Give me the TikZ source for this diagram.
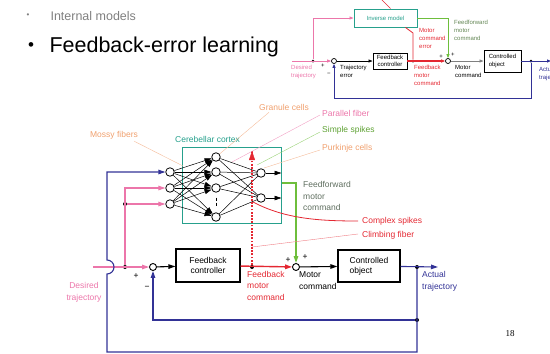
\documentclass[tikz,border=0pt]{standalone}
\usepackage{fontspec}
\setmainfont{Liberation Sans}
\newfontfamily\pagenumfont{Liberation Serif}
\usetikzlibrary{calc,positioning,arrows.meta}

\definecolor{trajpink}{RGB}{236,118,170}
\definecolor{loopblue}{RGB}{50,50,150}
\definecolor{cortexteal}{RGB}{38,160,140}
\definecolor{ffgreen}{RGB}{110,190,60}
\definecolor{errred}{RGB}{228,40,50}
\definecolor{cellorange}{RGB}{240,160,110}
\definecolor{ffgray}{RGB}{95,110,95}

\begin{document}
\begin{tikzpicture}[
        x=1pt, y=-1pt,
        box/.style={rectangle, draw=black, line width=1.2pt, font=\fontsize{8.5}{10}\selectfont, inner sep=1pt},
        smallbox/.style={rectangle, draw=black, line width=0.9pt, font=\fontsize{6}{7.5}\selectfont, inner sep=1pt},
        sum/.style={circle, draw=black, fill=white, line width=0.9pt, minimum size=7pt, inner sep=0pt},
        smallsum/.style={circle, draw=black, fill=white, line width=0.7pt, minimum size=5pt, inner sep=0pt},
        cell/.style={circle, draw=black, fill=white, line width=0.8pt, minimum size=8.5pt, inner sep=0pt},
        dot/.style={circle, fill=black, minimum size=4pt, inner sep=0pt},
        smalldot/.style={circle, fill=black, minimum size=3pt, inner sep=0pt},
        lbl/.style={font=\fontsize{8.5}{11.5}\selectfont, align=left, inner sep=0pt},
        tiny/.style={font=\fontsize{6}{8}\selectfont, align=left, inner sep=0pt},
        tip/.style={-{Triangle[length=7pt,width=4.5pt]}},
        smalltip/.style={-{Triangle[length=4pt,width=3pt]}},
        pointer/.style={line width=0.4pt}
    ]
    \useasboundingbox (0,0) rectangle (550,354);

    % slide text
    \node[text=gray, font=\fontsize{8}{9}\selectfont] (subbullet) at (28,16) {•};
    \node[anchor=west, text=gray, font=\fontsize{12.5}{14}\selectfont] (subtitle) at (47,16) {Internal models};
    \node[font=\fontsize{17}{18}\selectfont] (titlebullet) at (31,47) {•};
    \node[anchor=west, font=\fontsize{21.5}{24}\selectfont] (title) at (46,47) {Feedback-error learning};

    % small scheme, top right
    \node[draw=cortexteal, line width=0.9pt, minimum width=63pt, minimum height=18pt, tiny, text=cortexteal] (inv) at (385.5,18) {Inverse model};
    \node[smallbox, minimum width=34pt, minimum height=16pt, align=center] (ifb) at (390,61) {Feedback\\controller};
    \node[smallbox, minimum width=37pt, minimum height=22pt, align=left] (ico) at (502.5,61) {Controlled\\object};
    \node[smallsum] (isum1) at (334,61) {};
    \node[smallsum] (isum2) at (448,61) {};
    \coordinate (idesin) at (292,61);
    \node[smalldot] (idesdot) at (313,61) {};
    \node[smalldot] (ifbdot) at (413,61) {};
    \node[smalldot] (ioutdot) at (531,61) {};
    \coordinate (itop) at (381,-1);
    \coordinate (ioutend) at (551,61);

    \draw[trajpink, line width=0.8pt, smalltip] (idesin) -- (isum1);
    \draw[trajpink, line width=0.8pt, smalltip] (idesdot) |- (inv.west);
    \draw[errred, line width=0.6pt] (itop) -- ($(inv.north)+(5,0)$);
    \draw[black, line width=0.6pt, smalltip] (isum1) -- (ifb);
    \draw[errred, line width=1.2pt, smalltip] (ifb) -- (isum2);
    \draw[errred, line width=0.8pt] (ifbdot) -- ++(0,-28) -- ($(inv.south east)+(-12,0)$);
    \draw[ffgreen, line width=0.8pt, smalltip] (inv.east) -| (isum2);
    \draw[gray, line width=0.8pt, smalltip] (isum2) -- (ico);
    \draw[loopblue, line width=0.9pt, smalltip] (ico) -- (ioutend);
    \draw[loopblue, line width=0.9pt, smalltip] (ioutdot) -- ++(0,37) -| (isum1);

    \node[tiny, text=trajpink, anchor=north west] (idestxt) at (291,64.5) {Desired\\trajectory};
    \node[tiny] (iplus1) at (323,66) {+};
    \node[tiny] (iminus1) at (329,74) {\textminus};
    \node[tiny, anchor=north west] (ierrtxt) at (340,64.5) {Trajectory\\error};
    \node[tiny, text=errred, anchor=north west] (imcetxt) at (419,28.5) {Motor\\command\\error};
    \node[tiny, text=errred, anchor=north west] (ifbmtxt) at (414,64.5) {Feedback\\motor\\command};
    \node[tiny, text=ffgray!70!ffgreen, anchor=north west] (ifftxt) at (454,19.5) {Feedforward\\motor\\command};
    \node[tiny] (iplus2) at (441,57) {+};
    \node[tiny] (iplus3) at (453,55) {+};
    \node[tiny, anchor=north west] (imctxt) at (455,65.5) {Motor\\command};
    \node[tiny, text=loopblue, anchor=north west] (iacttxt) at (539,66.5) {Actual\\trajectory};

    % cerebellar cortex network
    \node[draw=cortexteal, line width=1pt, minimum width=99pt, minimum height=76pt] (cortex) at (231.5,185) {};
    \node[lbl, text=cortexteal, anchor=west] (cortextxt) at (175,139) {Cerebellar cortex};
    \foreach \i/\y in {1/172, 2/188, 3/204}
        \node[cell] (m\i) at (170,\y) {};
    \foreach \j/\y in {1/157, 2/172, 3/188, 4/217}
        \node[cell] (g\j) at (216,\y) {};
    \node[cell] (p1) at (261,173) {};
    \node[cell] (p2) at (261,198) {};
    \foreach \i in {1,2,3}
        \foreach \j in {1,...,4}
            \draw[line width=0.5pt, tip] (m\i) -- (g\j);
    \foreach \j in {1,...,4}
        \foreach \k in {1,2}
            \draw[line width=0.5pt] (g\j) -- (p\k);
    \draw[line width=0.5pt, densely dashed, shorten <=5pt, shorten >=5pt] (g3) -- (g4);
    \draw[line width=0.6pt, tip] (p1) -- (cortex.east |- p1);
    \draw[line width=0.6pt, tip] (p2) -- (cortex.east |- p2);

    % main loop
    \node[sum] (sum1) at (153,267) {};
    \node[sum] (sum2) at (296,267) {};
    \node[box, minimum width=64pt, minimum height=33pt, align=center] (fb) at (208,265.5) {Feedback\\controller};
    \node[box, minimum width=62pt, minimum height=32pt, align=left] (co) at (369,266) {Controlled\\object};
    \coordinate (desin) at (93,267);
    \node[dot] (desdot) at (125,267) {};
    \node[dot] (mossdot) at (125,204) {};
    \node[dot] (fbdot) at (252,267) {};
    \node[dot] (outdot) at (417,267) {};
    \node[dot] (loopdot) at (417,320) {};
    \coordinate (outend) at (438,267);
    \coordinate (cfup) at (252,151);
    \coordinate (ffout) at (cortex.east |- 0,183);
    \coordinate (hoplow) at (107,274);
    \coordinate (hophigh) at (107,260);

    \draw[trajpink, line width=1.1pt, tip] (desin) -- (sum1);
    \draw[trajpink, line width=1.1pt, tip] (desdot) |- (m2);
    \draw[trajpink, line width=1.1pt, tip] (mossdot) -- (m3);
    \draw[loopblue, line width=1.1pt, tip] (outdot) |- (107,352) -- (hoplow)
        arc[start angle=90, end angle=-90, radius=7] |- (m1);
    \draw[loopblue, line width=1.1pt, tip] (co) -- (outend);
    \draw[loopblue, line width=1.1pt, tip] (loopdot) -| (sum1);
    \draw[line width=1.1pt, tip] (sum1) -- (fb);
    \draw[errred, line width=1.4pt, tip] (fb) -- (sum2);
    \draw[errred, line width=1.7pt, dash pattern=on 1.8pt off 1.4pt] (fbdot) -- (cfup);
    \draw[errred, -{Triangle[length=9pt,width=6pt]}] ($(cfup)+(0,2)$) -- (cfup);
    \draw[ffgreen, line width=1.3pt, tip] (ffout) -| (sum2);
    \draw[line width=1.1pt, tip] (sum2) -- (co);

    % labels
    \node[lbl, text=trajpink, align=center] (destxt) at (84,292.5) {Desired\\trajectory};
    \node[lbl] (plus1) at (136,276) {+};
    \node[lbl] (minus1) at (147,288) {\textminus};
    \node[lbl, text=errred, anchor=north west] (fbmtxt) at (247,271) {Feedback\\motor\\command};
    \node[lbl] (plus2) at (288,260) {+};
    \node[lbl] (plus3) at (305,257) {+};
    \node[lbl, anchor=north west] (mctxt) at (299,271.5) {Motor\\command};
    \node[lbl, text=loopblue, anchor=north west] (acttxt) at (422,271.5) {Actual\\trajectory};
    \node[lbl, text=ffgray, anchor=north west] (fftxt) at (303,181.5) {Feedforward\\motor\\command};
    \node[lbl, text=errred, anchor=west] (cstxt) at (362,221) {Complex spikes};
    \node[lbl, text=errred, anchor=west] (cftxt) at (362,235) {Climbing fiber};
    \node[lbl, text=cellorange] (mosstxt) at (114,135) {Mossy fibers};
    \node[lbl, text=cellorange] (grantxt) at (284,107) {Granule cells};
    \node[lbl, text=trajpink, anchor=west] (pftxt) at (322,113) {Parallel fiber};
    \node[lbl, text=ffgreen!85!black, anchor=west] (sstxt) at (322,130) {Simple spikes};
    \node[lbl, text=cellorange, anchor=west] (pctxt) at (322,148) {Purkinje cells};

    % pointer lines
    \draw[cellorange!70, pointer] ($(mosstxt.south east)+(-4,2)$) -- (183,166);
    \draw[cellorange!70, pointer] ($(grantxt.south west)+(10,2)$) -- (g1);
    \draw[trajpink!70, pointer] ($(pftxt.west)+(-2,2)$) -- (232,162);
    \draw[ffgreen!70, pointer] ($(sstxt.west)+(-2,2)$) -- (257,165);
    \draw[cellorange!70, pointer] ($(pctxt.west)+(-2,2)$) -- (264,168);
    \draw[errred, line width=0.8pt] (253,202) .. controls (285,219) and (320,221) .. ($(cstxt.west)+(-4,0)$);
    \draw[errred!60, pointer] (fbdot |- 0,247) -- ($(cftxt.west)+(-4,-1)$);

    \node[font=\pagenumfont\fontsize{9}{10}\selectfont] (pagenum) at (510,334) {18};
\end{tikzpicture}
\end{document}
